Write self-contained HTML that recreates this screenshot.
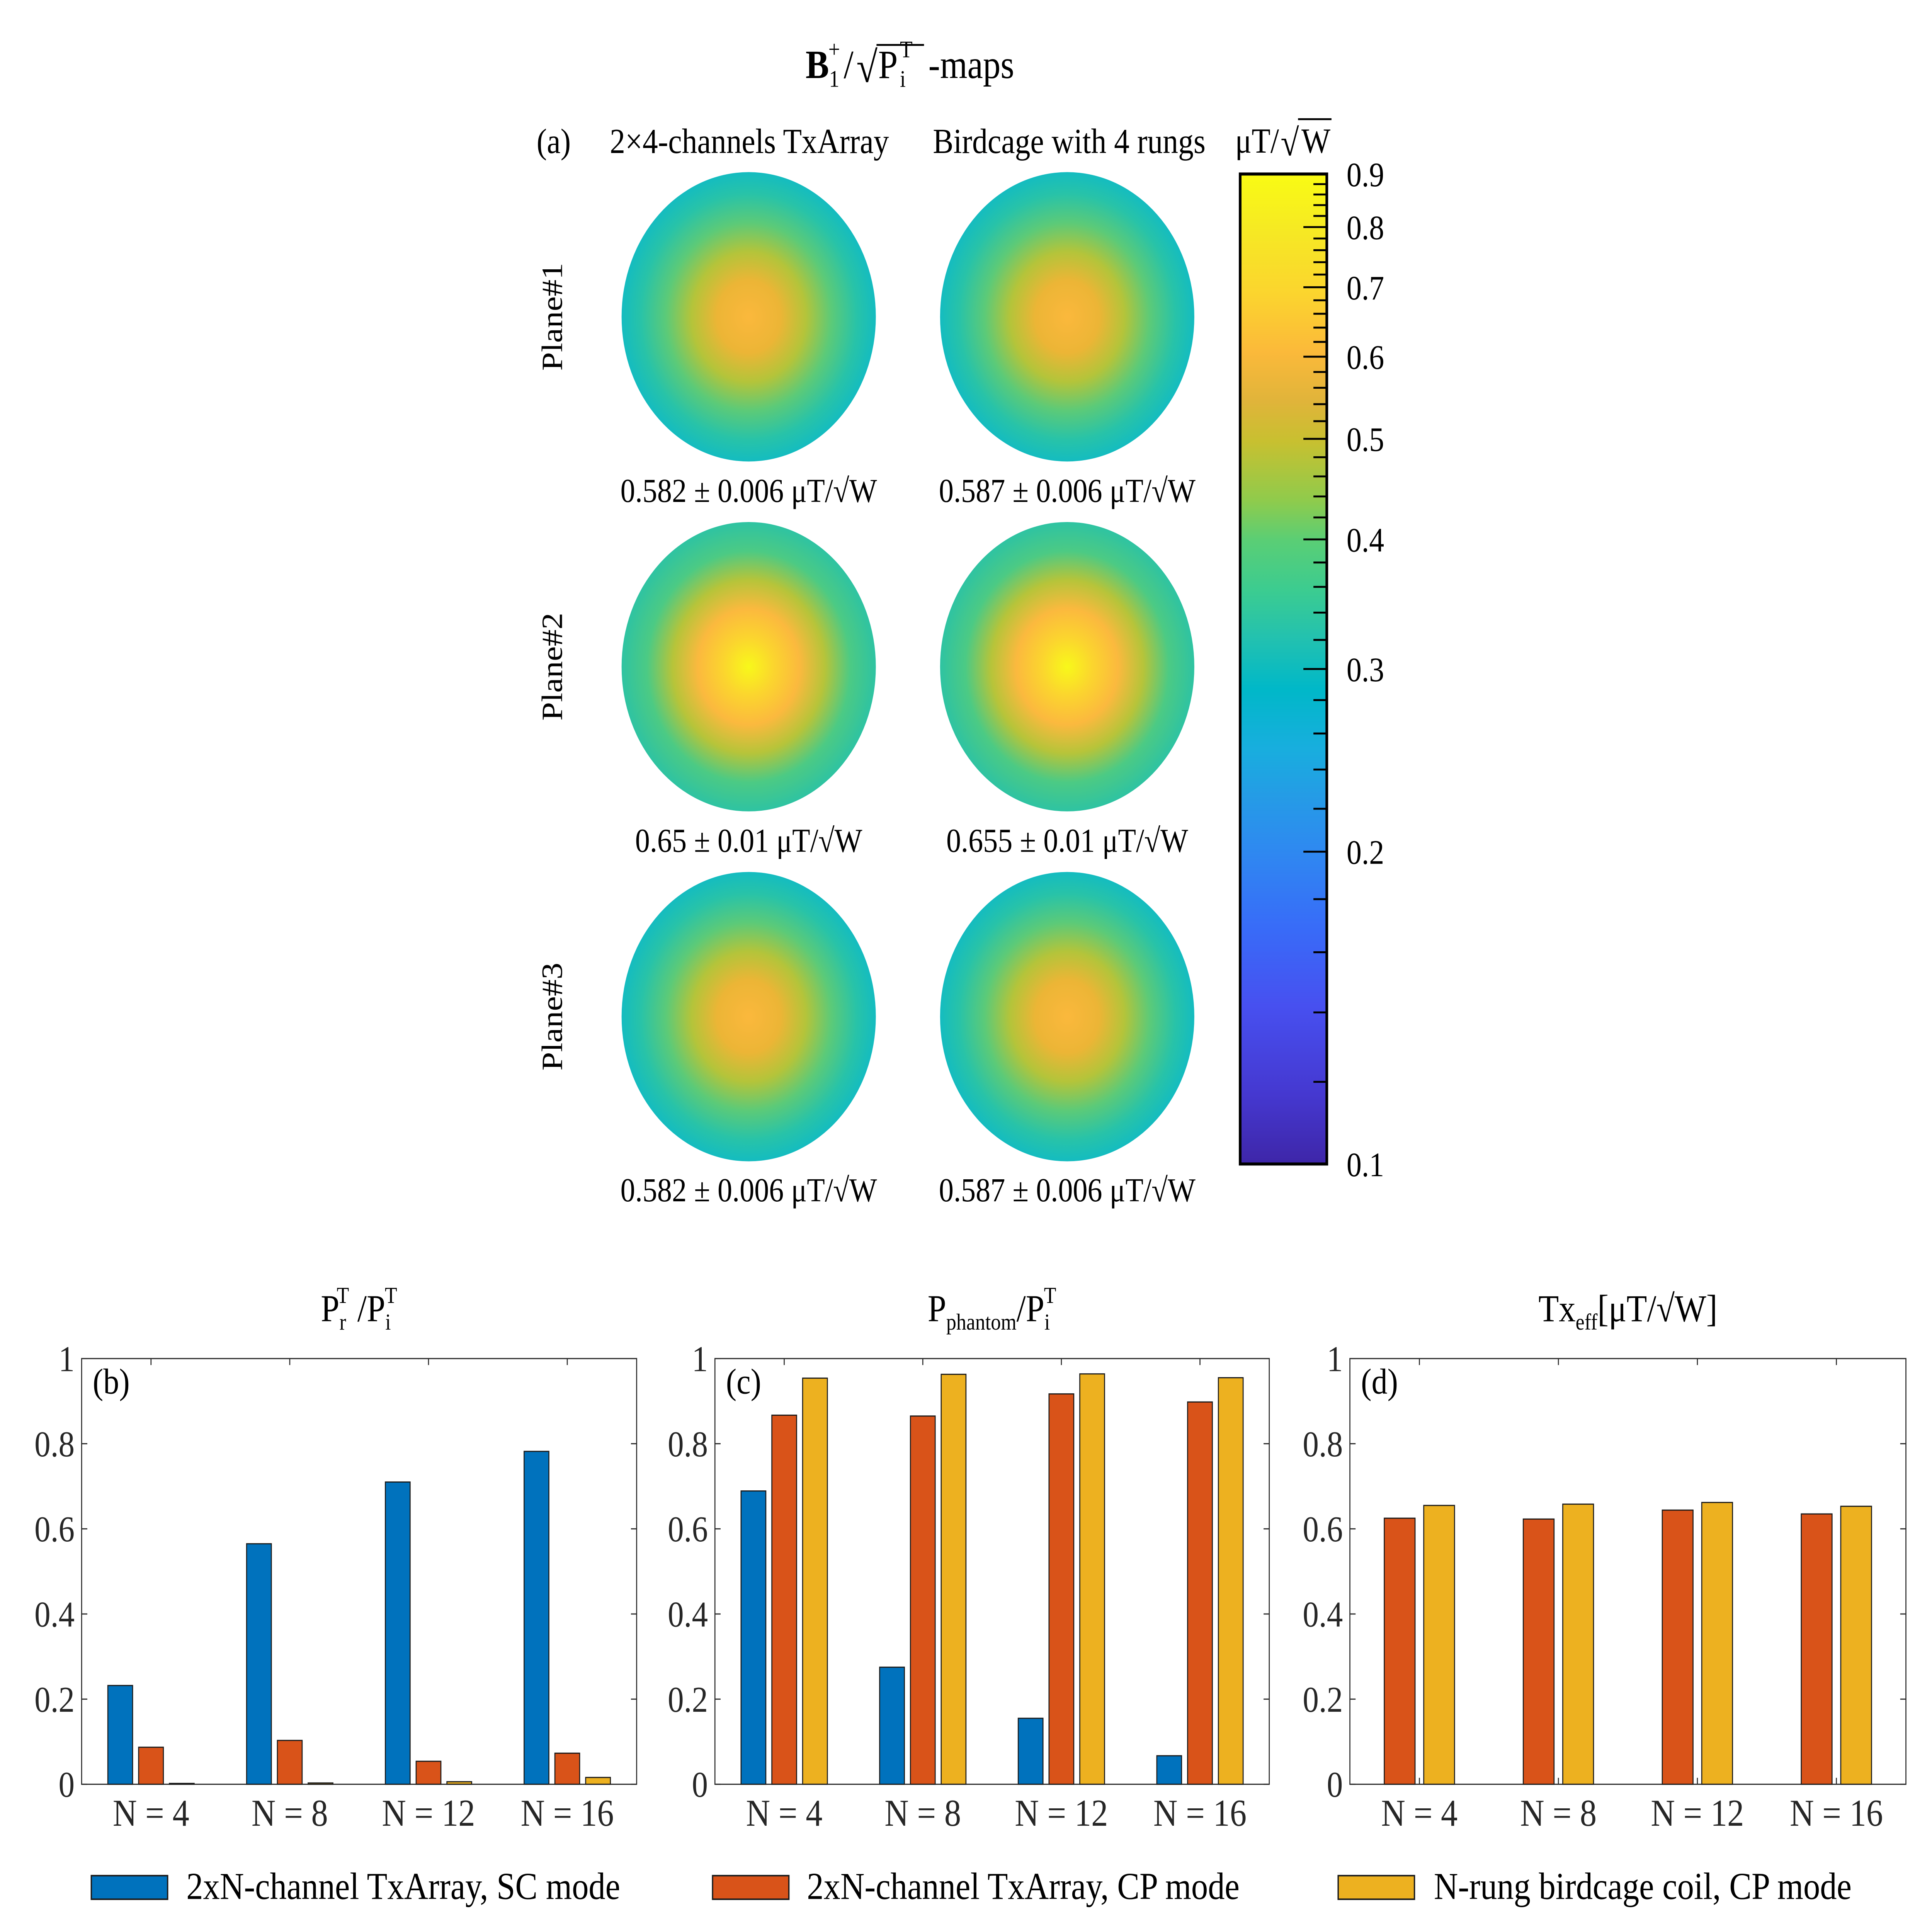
<!DOCTYPE html>
<html><head><meta charset="utf-8"><style>
html,body{margin:0;padding:0;background:#fff;overflow:hidden;width:100vw;height:100vh}
svg{display:block;font-family:"Liberation Serif","DejaVu Serif",serif;width:100vw;height:100vh}
</style></head><body>
<svg id="root" viewBox="0 0 5775 5074" preserveAspectRatio="none" xmlns="http://www.w3.org/2000/svg">
<defs>
<linearGradient id="parula" x1="0" y1="0" x2="0" y2="1">
<stop offset="0" stop-color="#f9fb14"/><stop offset="0.06" stop-color="#f6e824"/><stop offset="0.12" stop-color="#fbd52e"/>
<stop offset="0.18" stop-color="#fbb93a"/><stop offset="0.23" stop-color="#e0b43a"/><stop offset="0.27" stop-color="#c8c030"/>
<stop offset="0.33" stop-color="#8fcb4c"/><stop offset="0.37" stop-color="#5ace75"/><stop offset="0.42" stop-color="#3ccc90"/>
<stop offset="0.47" stop-color="#22c1b0"/><stop offset="0.52" stop-color="#00b8c8"/><stop offset="0.58" stop-color="#18aede"/>
<stop offset="0.63" stop-color="#259be6"/><stop offset="0.68" stop-color="#2e8af0"/><stop offset="0.76" stop-color="#386cf8"/>
<stop offset="0.84" stop-color="#4750f0"/><stop offset="0.93" stop-color="#4538d0"/><stop offset="1" stop-color="#3e26a8"/>
</linearGradient>
<radialGradient id="mapA" cx="0.5" cy="0.5" r="0.5">
<stop offset="0" stop-color="#fbb83c"/><stop offset="0.25" stop-color="#ecb536"/><stop offset="0.45" stop-color="#b4c43a"/>
<stop offset="0.65" stop-color="#5cca78"/><stop offset="0.85" stop-color="#28c3a8"/><stop offset="1" stop-color="#14bcc0"/>
</radialGradient>
<radialGradient id="mapB" cx="0.5" cy="0.5" r="0.5">
<stop offset="0" stop-color="#f8f81a"/><stop offset="0.2" stop-color="#fbd52e"/><stop offset="0.4" stop-color="#fbb93e"/>
<stop offset="0.6" stop-color="#b6c43a"/><stop offset="0.8" stop-color="#4cca84"/><stop offset="1" stop-color="#2ec3a2"/>
</radialGradient>
</defs>

<g fill="#000">
<text x="2408" y="205" font-size="105" font-weight="bold">B</text>
<text x="2478" y="228" font-size="62">1</text>
<text x="2476" y="150" font-size="62">+</text>
<text x="2522" y="205" font-size="105">/</text>
<text x="2560" y="215" font-size="115">√</text>
<line x1="2620" y1="118" x2="2762" y2="118" stroke="#000" stroke-width="5"/>
<text x="2625" y="205" font-size="105">P</text>
<text x="2690" y="228" font-size="62">i</text>
<text x="2690" y="150" font-size="62">T</text>
<text x="2775" y="205" font-size="105">-maps</text>
</g>

<text x="1604" y="402" font-size="92">(a)</text>
<text x="2240" y="402" font-size="92" text-anchor="middle">2×4-channels TxArray</text>
<text x="3196" y="402" font-size="92" text-anchor="middle">Birdcage with 4 rungs</text>

<g>
<circle cx="2238" cy="832" r="380" fill="url(#mapA)"/>
<circle cx="3190" cy="832" r="380" fill="url(#mapA)"/>
<circle cx="2238" cy="1751" r="380" fill="url(#mapB)"/>
<circle cx="3190" cy="1751" r="380" fill="url(#mapB)"/>
<circle cx="2238" cy="2670" r="380" fill="url(#mapA)"/>
<circle cx="3190" cy="2670" r="380" fill="url(#mapA)"/>
</g>
<g font-size="88" text-anchor="middle">
<text x="2238" y="1318">0.582 ± 0.006 μT/√W</text>
<text x="3190" y="1318">0.587 ± 0.006 μT/√W</text>
<text x="2238" y="2237">0.65 ± 0.01 μT/√W</text>
<text x="3190" y="2237">0.655 ± 0.01 μT/√W</text>
<text x="2238" y="3155">0.582 ± 0.006 μT/√W</text>
<text x="3190" y="3155">0.587 ± 0.006 μT/√W</text>
</g>
<g font-size="88" text-anchor="middle">
<text transform="translate(1680,832) rotate(-90)">Plane#1</text>
<text transform="translate(1680,1751) rotate(-90)">Plane#2</text>
<text transform="translate(1680,2670) rotate(-90)">Plane#3</text>
</g>

<g id="cbar">
<rect x="3707" y="457" width="259" height="2600" fill="url(#parula)" stroke="#000" stroke-width="8"/>
</g>
<g>
<text x="3692" y="401" font-size="92">μT/</text>
<text x="3828" y="408" font-size="100">√</text>
<line x1="3880" y1="313" x2="3980" y2="313" stroke="#000" stroke-width="5"/>
<text x="3890" y="401" font-size="92">W</text>
</g>

<g id="charts"></g>

<g>
<g>
<rect x="273" y="4926" width="228" height="62" fill="#0072bd" stroke="#1a1a1a" stroke-width="4"/>
<text x="557" y="4987" font-size="100">2xN-channel TxArray, SC mode</text></g>
<g>
<rect x="2130" y="4926" width="228" height="62" fill="#d95319" stroke="#1a1a1a" stroke-width="4"/>
<text x="2412" y="4987" font-size="100">2xN-channel TxArray, CP mode</text></g>
<g>
<rect x="4000" y="4926" width="228" height="62" fill="#edb120" stroke="#1a1a1a" stroke-width="4"/>
<text x="4286" y="4987" font-size="100">N-rung birdcage coil, CP mode</text></g>
</g>
</svg>
<script>
const NS = 'http://www.w3.org/2000/svg';
const categories = ['N = 4', 'N = 8', 'N = 12', 'N = 16'];
const yTicks = [0, 0.2, 0.4, 0.6, 0.8, 1];
const yTickLabels = ['0', '0.2', '0.4', '0.6', '0.8', '1'];
const bSC = [0.232, 0.565, 0.71, 0.782];
const bCP = [0.087, 0.103, 0.054, 0.073];
const bBC = [0.002, 0.003, 0.006, 0.016];
const cSC = [0.689, 0.275, 0.155, 0.067];
const cCP = [0.867, 0.865, 0.917, 0.898];
const cBC = [0.954, 0.963, 0.964, 0.955];
const dCP = [0.625, 0.623, 0.644, 0.635];
const dBC = [0.655, 0.658, 0.662, 0.653];
const cbarTicks = [0.9, 0.8, 0.7, 0.6, 0.5, 0.4, 0.3, 0.2, 0.1];
const cbarTickLabels = ['0.9', '0.8', '0.7', '0.6', '0.5', '0.4', '0.3', '0.2', '0.1'];

const colors = {sc: '#0072bd', cp: '#d95319', bc: '#edb120'};
function mk(tag, attrs, parent) {
  const e = document.createElementNS(NS, tag);
  for (const k in attrs) e.setAttribute(k, attrs[k]);
  parent.appendChild(e);
  return e;
}
const charts = document.getElementById('charts');
const TOP = 3568, BOT = 4686;
function yScale(v) { return BOT - v * (BOT - TOP); }

function drawPanel(id, left, right, label, series) {
  const g = mk('g', {}, charts);
  
  
  const W = right - left;
  const xCenter = i => left + W * (i + 0.5) / categories.length;
  mk('rect', {x: left, y: TOP, width: W, height: BOT - TOP, fill: 'none', stroke: '#262626', 'stroke-width': 3}, g);
  yTicks.forEach((t, i) => {
    const y = yScale(t);
    mk('line', {x1: left, y1: y, x2: left + 17, y2: y, stroke: '#262626', 'stroke-width': 3}, g);
    mk('line', {x1: right, y1: y, x2: right - 17, y2: y, stroke: '#262626', 'stroke-width': 3}, g);
    const tl = mk('text', {x: left - 21, y: y + 33, 'font-size': 96, 'text-anchor': 'end', fill: '#262626'}, g);
    tl.textContent = yTickLabels[i];
    
    
  });
  const n = series.length;
  const bw = n === 3 ? 74 : 92;
  const offs = n === 3 ? [-92, 0, 92] : [-59, 59];
  categories.forEach((c, i) => {
    const cx = xCenter(i);
    mk('line', {x1: cx, y1: TOP, x2: cx, y2: TOP + 17, stroke: '#262626', 'stroke-width': 3}, g);
    mk('line', {x1: cx, y1: BOT, x2: cx, y2: BOT - 17, stroke: '#262626', 'stroke-width': 3}, g);
    const tl = mk('text', {x: cx, y: 4795, 'font-size': 100, 'text-anchor': 'middle', fill: '#262626'}, g);
    tl.textContent = c;
    
    
    series.forEach((s, k) => {
      const v = s.values[i];
      const y = yScale(v);
      const r = mk('rect', {x: cx + offs[k] - bw / 2, y: y, width: bw, height: BOT - y, fill: s.color, stroke: '#1a1a1a', 'stroke-width': 3}, g);
      
      
    });
  });
  const pl = mk('text', {x: left + 33, y: TOP + 92, 'font-size': 95}, g);
  pl.textContent = label;
  
  
}
drawPanel('b', 244, 1903, '(b)', [{key: 'sc', values: bSC, color: colors.sc}, {key: 'cp', values: bCP, color: colors.cp}, {key: 'bc', values: bBC, color: colors.bc}]);
drawPanel('c', 2137, 3794, '(c)', [{key: 'sc', values: cSC, color: colors.sc}, {key: 'cp', values: cCP, color: colors.cp}, {key: 'bc', values: cBC, color: colors.bc}]);
drawPanel('d', 4035, 5697, '(d)', [{key: 'cp', values: dCP, color: colors.cp}, {key: 'bc', values: dBC, color: colors.bc}]);

function title(cx, parts, name) {
  const t = mk('text', {x: cx, y: 3470, 'font-size': 100, 'text-anchor': 'middle'}, charts);
  
  
  parts.forEach(p => {
    const s = mk('tspan', p.a || {}, t);
    s.textContent = p.t;
  });
}
title(1073, [{t: 'P'}, {t: 'r', a: {'font-size': 60, dy: 22}}, {t: 'T', a: {'font-size': 60, dx: -28, dy: -70}}, {t: ' /P', a: {dy: 48}}, {t: 'i', a: {'font-size': 60, dy: 22}}, {t: 'T', a: {'font-size': 60, dx: -18, dy: -70}}], 'chart-b-title');
title(2965, [{t: 'P'}, {t: 'phantom', a: {'font-size': 60, dy: 22}}, {t: '/P', a: {dy: -22}}, {t: 'i', a: {'font-size': 60, dy: 22}}, {t: 'T', a: {'font-size': 60, dx: -18, dy: -70}}], 'chart-c-title');
title(4866, [{t: 'Tx'}, {t: 'eff', a: {'font-size': 60, dy: 22}}, {t: '[μT/√W]', a: {dy: -22}}], 'chart-d-title');

const cb = document.getElementById('cbar');
const CT = 457, CB = 3057, CR = 3966;
function cbY(v) { return CT + (CB - CT) * Math.log(0.9 / v) / Math.log(9); }
cbarTicks.forEach((v, i) => {
  const y = cbY(v);
  if (v < 0.9 && v > 0.1) mk('line', {x1: CR - 70, y1: y, x2: CR, y2: y, stroke: '#000', 'stroke-width': 5}, cb);
  const t = mk('text', {x: 4025, y: y + 32, 'font-size': 90}, document.getElementById('root'));
  t.textContent = cbarTickLabels[i];
  
  
});
for (let k = 11; k < 90; k++) {
  const v = k / 100;
  if (k % 2 === 0 && k % 10 !== 0) {
    const y = cbY(v);
    mk('line', {x1: CR - 40, y1: y, x2: CR, y2: y, stroke: '#000', 'stroke-width': 5}, cb);
  }
}
</script>
</body></html>
